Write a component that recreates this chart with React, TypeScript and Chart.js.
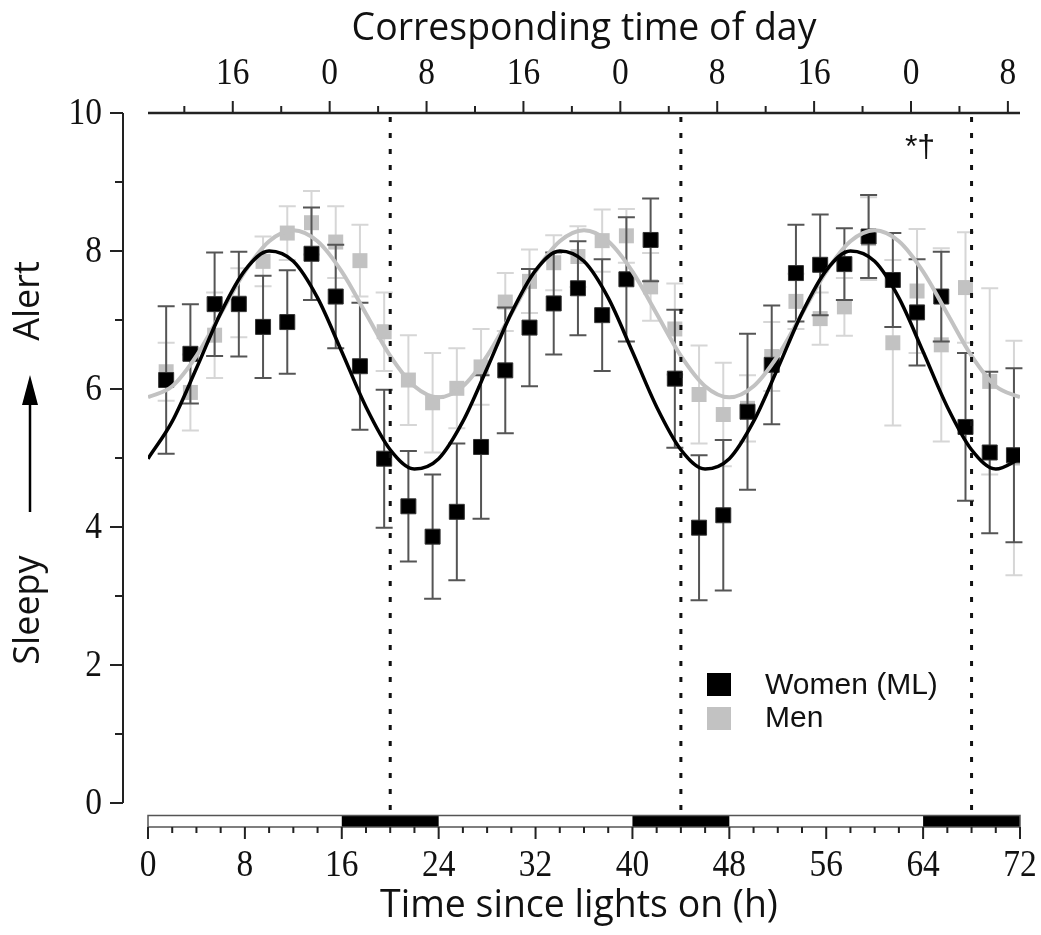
import React, { useEffect, useRef } from "react";
import { Chart, registerables } from "chart.js";

Chart.register(...registerables);

// ---- data ----
const hours = [
  1.5, 3.5, 5.5, 7.5, 9.5, 11.5, 13.5, 15.5, 17.5, 19.5, 21.5, 23.5,
  25.5, 27.5, 29.5, 31.5, 33.5, 35.5, 37.5, 39.5, 41.5, 43.5, 45.5, 47.5,
  49.5, 51.5, 53.5, 55.5, 57.5, 59.5, 61.5, 63.5, 65.5, 67.5, 69.5, 71.5,
];
const womenMean = [
  6.13, 6.51, 7.23, 7.23, 6.9, 6.97, 7.96, 7.34, 6.33, 4.99, 4.3, 3.86,
  4.22, 5.16, 6.27, 6.89, 7.24, 7.46, 7.07, 7.59, 8.16, 6.15, 3.99, 4.17,
  5.67, 6.35, 7.68, 7.8, 7.81, 8.21, 7.58, 7.11, 7.34, 5.45, 5.08, 5.04,
];
const womenErr = [
  1.07, 0.72, 0.75, 0.76, 0.74, 0.75, 0.67, 0.75, 0.92, 1.0, 0.8, 0.9,
  0.99, 1.04, 0.91, 0.85, 0.74, 0.68, 0.81, 0.9, 0.6, 1.0, 1.05, 1.09,
  1.13, 0.86, 0.7, 0.73, 0.52, 0.6, 0.68, 0.77, 0.65, 1.07, 1.17, 1.26,
];
const menMean = [
  6.25, 5.95, 6.78, 7.25, 7.85, 8.26, 8.41, 8.13, 7.86, 6.83, 6.13, 5.8,
  6.01, 6.32, 7.26, 7.56, 7.83, 7.92, 8.15, 8.22, 7.48, 6.87, 5.92, 5.63,
  5.72, 6.47, 7.27, 7.02, 7.19, 8.18, 6.67, 7.42, 6.64, 7.47, 6.11, 5.0,
];
const menErr = [
  0.42, 0.55, 0.62, 0.5, 0.36, 0.39, 0.46, 0.52, 0.52, 0.57, 0.65, 0.72,
  0.58, 0.55, 0.42, 0.46, 0.4, 0.44, 0.45, 0.39, 0.49, 0.66, 0.71, 0.75,
  0.48, 0.5, 0.4, 0.38, 0.42, 0.6, 1.2, 0.9, 1.4, 0.8, 1.35, 1.7,
];
// fitted curves, every 2 h
const fitHours = [
  0, 2, 4, 6, 8, 10, 12, 14, 16, 18, 20, 22, 24, 26, 28, 30, 32, 34, 36,
  38, 40, 42, 44, 46, 48, 50, 52, 54, 56, 58, 60, 62, 64, 66, 68, 70, 72,
];
const womenFit = [
  4.99, 5.53, 6.3, 7.1, 7.72, 8.0, 7.85, 7.32, 6.54, 5.74, 5.12, 4.84,
  4.99, 5.53, 6.3, 7.1, 7.72, 8.0, 7.85, 7.32, 6.54, 5.74, 5.12, 4.84,
  4.99, 5.53, 6.3, 7.1, 7.72, 8.0, 7.85, 7.32, 6.54, 5.74, 5.12, 4.84, 4.99,
];
const menFit = [
  5.88, 6.04, 6.48, 7.09, 7.7, 8.14, 8.3, 8.14, 7.7, 7.09, 6.48, 6.04,
  5.88, 6.04, 6.48, 7.09, 7.7, 8.14, 8.3, 8.14, 7.7, 7.09, 6.48, 6.04,
  5.88, 6.04, 6.48, 7.09, 7.7, 8.14, 8.3, 8.14, 7.7, 7.09, 6.48, 6.04, 5.88,
];
const bottomTickValues = [0, 8, 16, 24, 32, 40, 48, 56, 64, 72];
const bottomMinorTicks = [
  2, 4, 6, 10, 12, 14, 18, 20, 22, 26, 28, 30, 34, 36, 38, 42, 44, 46, 50,
  52, 54, 58, 60, 62, 66, 68, 70,
];
const topTickHours = [7, 15, 23, 31, 39, 47, 55, 63, 71];
const topTickLabels = ["16", "0", "8", "16", "0", "8", "16", "0", "8"];
const topMinorHours = [3, 11, 19, 27, 35, 43, 51, 59, 67];
const yTickValues = [0, 2, 4, 6, 8, 10];
const yMinorValues = [1, 3, 5, 7, 9];
const darkPeriods = [
  [16, 24],
  [40, 48],
  [64, 72],
];
const dashedHours = [20, 44, 68];

const BLACK = "#000000";
const GRAY = "#c2c2c2";
const BLACK_ERR = "#555555";
const GRAY_ERR = "#d6d6d6";
const SERIF = '"Liberation Serif", "DejaVu Serif", serif';
const SANS = '"Open Sans", "Noto Sans", sans-serif';
const ARIAL = '"Liberation Sans", Arial, sans-serif';

// text drawn slightly condensed (tall, narrow glyphs as in the reference)
function condensedText(ctx: any, text: string, x: number, y: number, sx: number) {
  ctx.save();
  ctx.translate(x, y);
  ctx.scale(sx, 1);
  ctx.fillText(text, 0, 0);
  ctx.restore();
}

function drawErrors(chart: any, means: number[], errs: number[], color: string) {
  const ctx = chart.ctx;
  const xs = chart.scales.x;
  const ys = chart.scales.y;
  ctx.save();
  ctx.strokeStyle = color;
  ctx.lineWidth = 2;
  const cap = 8.5;
  for (let i = 0; i < hours.length; i++) {
    const x = xs.getPixelForValue(hours[i]);
    const yt = ys.getPixelForValue(means[i] + errs[i]);
    const yb = ys.getPixelForValue(means[i] - errs[i]);
    ctx.beginPath();
    ctx.moveTo(x, yt);
    ctx.lineTo(x, yb);
    ctx.moveTo(x - cap, yt);
    ctx.lineTo(x + cap, yt);
    ctx.moveTo(x - cap, yb);
    ctx.lineTo(x + cap, yb);
    ctx.stroke();
  }
  ctx.restore();
}

const customPlugin = {
  id: "customDecor",
  beforeDatasetDraw(chart: any, args: any) {
    if (args.index === 3) drawErrors(chart, menMean, menErr, GRAY_ERR);
    if (args.index === 2) drawErrors(chart, womenMean, womenErr, BLACK_ERR);
  },
  afterDatasetsDraw(chart: any) {
    const ctx = chart.ctx;
    const xs = chart.scales.x;
    const ys = chart.scales.y;
    ctx.save();
    ctx.strokeStyle = "#111";
    ctx.lineWidth = 3;
    ctx.setLineDash([5, 11]);
    for (const h of dashedHours) {
      const x = xs.getPixelForValue(h);
      ctx.beginPath();
      ctx.moveTo(x, ys.getPixelForValue(10) + 4);
      ctx.lineTo(x, ys.getPixelForValue(0) + 10);
      ctx.stroke();
    }
    ctx.restore();
  },
  afterDraw(chart: any) {
    const ctx = chart.ctx;
    const xs = chart.scales.x;
    const ys = chart.scales.y;
    const left = xs.getPixelForValue(0);
    const right = xs.getPixelForValue(72);
    const top = ys.getPixelForValue(10);
    const bottom = ys.getPixelForValue(0);
    ctx.save();

    // ---- left y axis ----
    const ax = 123;
    ctx.strokeStyle = "#222";
    ctx.lineWidth = 2;
    ctx.beginPath();
    ctx.moveTo(ax, top);
    ctx.lineTo(ax, bottom);
    for (const v of yTickValues) {
      const y = ys.getPixelForValue(v);
      ctx.moveTo(ax - 13, y);
      ctx.lineTo(ax, y);
    }
    for (const v of yMinorValues) {
      const y = ys.getPixelForValue(v);
      ctx.moveTo(ax - 8, y);
      ctx.lineTo(ax, y);
    }
    ctx.stroke();
    ctx.fillStyle = "#111";
    ctx.font = `38px ${SERIF}`;
    ctx.textAlign = "right";
    ctx.textBaseline = "middle";
    for (const v of yTickValues) {
      condensedText(ctx, String(v), 102, ys.getPixelForValue(v) + 1, 0.88);
    }

    // y title: Sleepy ——> Alert
    ctx.save();
    ctx.translate(29, 0);
    ctx.rotate(-Math.PI / 2);
    ctx.font = `36px ${SANS}`;
    ctx.textAlign = "center";
    ctx.textBaseline = "middle";
    ctx.fillText("Alert", -301, 0);
    ctx.fillText("Sleepy", -610, 0);
    ctx.restore();
    ctx.strokeStyle = "#000";
    ctx.lineWidth = 2.5;
    ctx.beginPath();
    ctx.moveTo(30, 512);
    ctx.lineTo(30, 395);
    ctx.stroke();
    ctx.fillStyle = "#000";
    ctx.beginPath();
    ctx.moveTo(30, 375);
    ctx.lineTo(22, 405);
    ctx.lineTo(38, 405);
    ctx.closePath();
    ctx.fill();

    // ---- top axis ----
    ctx.strokeStyle = "#222";
    ctx.lineWidth = 2.5;
    ctx.beginPath();
    ctx.moveTo(left, top);
    ctx.lineTo(right, top);
    ctx.stroke();
    ctx.lineWidth = 2;
    ctx.beginPath();
    for (const h of topTickHours) {
      const x = xs.getPixelForValue(h);
      ctx.moveTo(x, top);
      ctx.lineTo(x, top - 12);
    }
    for (const h of topMinorHours) {
      const x = xs.getPixelForValue(h);
      ctx.moveTo(x, top);
      ctx.lineTo(x, top - 7);
    }
    ctx.stroke();
    ctx.fillStyle = "#111";
    ctx.font = `38px ${SERIF}`;
    ctx.textAlign = "center";
    ctx.textBaseline = "middle";
    topTickHours.forEach((h, i) => {
      condensedText(ctx, topTickLabels[i], xs.getPixelForValue(h), 74, 0.88);
    });
    ctx.font = `39px ${SANS}`;
    condensedText(ctx, "Corresponding time of day", (left + right) / 2, 29, 0.96);

    // ---- light/dark bar ----
    const barTop = 815.5;
    const barBottom = 827;
    ctx.fillStyle = "#000";
    for (const [a, b] of darkPeriods) {
      const xa = xs.getPixelForValue(a);
      const xb = xs.getPixelForValue(b);
      ctx.fillRect(xa, barTop, xb - xa, barBottom - barTop);
    }
    ctx.strokeStyle = "#555";
    ctx.lineWidth = 1.5;
    ctx.strokeRect(left, barTop, right - left, barBottom - barTop);
    ctx.strokeStyle = "#222";
    ctx.lineWidth = 2;
    ctx.beginPath();
    for (const v of bottomTickValues) {
      const x = xs.getPixelForValue(v);
      ctx.moveTo(x, barBottom);
      ctx.lineTo(x, barBottom + 12);
    }
    for (const v of bottomMinorTicks) {
      const x = xs.getPixelForValue(v);
      ctx.moveTo(x, barBottom);
      ctx.lineTo(x, barBottom + 6);
    }
    ctx.stroke();
    ctx.fillStyle = "#111";
    ctx.font = `38px ${SERIF}`;
    ctx.textAlign = "center";
    ctx.textBaseline = "middle";
    for (const v of bottomTickValues) {
      condensedText(ctx, String(v), xs.getPixelForValue(v), 866, 0.88);
    }
    ctx.font = `39px ${SANS}`;
    condensedText(ctx, "Time since lights on (h)", 579, 906, 0.96);

    // ---- annotation ----
    ctx.font = `32px ${ARIAL}`;
    ctx.fillText("*\u2020", 920, 148);

    // ---- legend ----
    ctx.fillStyle = BLACK;
    ctx.fillRect(707, 673, 24, 23);
    ctx.fillStyle = GRAY;
    ctx.fillRect(707, 707, 24, 23);
    ctx.fillStyle = "#111";
    ctx.font = `30px ${ARIAL}`;
    ctx.textAlign = "left";
    ctx.textBaseline = "middle";
    ctx.fillText("Women (ML)", 765, 686);
    ctx.fillText("Men", 765, 719);

    ctx.restore();
  },
};

export default function App() {
  const ref = useRef<HTMLCanvasElement | null>(null);
  useEffect(() => {
    if (!ref.current) return;
    const chart = new Chart(ref.current, {
      type: "line",
      data: {
        datasets: [
          {
            label: "Women fit",
            data: fitHours.map((h, i) => ({ x: h, y: womenFit[i] })),
            borderColor: BLACK,
            borderWidth: 3.5,
            pointRadius: 0,
            tension: 0.4,
            cubicInterpolationMode: "monotone",
            fill: false,
            order: 0,
          } as any,
          {
            label: "Men fit",
            data: fitHours.map((h, i) => ({ x: h, y: menFit[i] })),
            borderColor: GRAY,
            borderWidth: 4,
            pointRadius: 0,
            tension: 0.4,
            cubicInterpolationMode: "monotone",
            fill: false,
            order: 1,
          } as any,
          {
            label: "Women (ML)",
            type: "scatter",
            data: hours.map((h, i) => ({ x: h, y: womenMean[i] })),
            backgroundColor: BLACK,
            borderColor: "#333",
            borderWidth: 1,
            pointStyle: "rect",
            pointRadius: 10.6,
            showLine: false,
            order: 2,
          } as any,
          {
            label: "Men",
            type: "scatter",
            data: hours.map((h, i) => ({ x: h, y: menMean[i] })),
            backgroundColor: GRAY,
            borderColor: GRAY,
            borderWidth: 0,
            pointStyle: "rect",
            pointRadius: 10.6,
            showLine: false,
            order: 3,
          } as any,
        ],
      },
      options: {
        animation: false,
        responsive: false,
        layout: { padding: { left: 148, right: 21, top: 113, bottom: 132 } },
        scales: {
          x: { type: "linear", min: 0, max: 72, display: false },
          y: { type: "linear", min: 0, max: 10, display: false },
        },
        plugins: {
          legend: { display: false },
          tooltip: { enabled: false },
        },
      },
      plugins: [customPlugin],
    });
    return () => chart.destroy();
  }, []);
  return (
    <div
      style={{
        position: "fixed",
        left: 0,
        top: 0,
        width: 1041,
        height: 935,
        background: "#fff",
      }}
    >
      <canvas ref={ref} width={1041} height={935} />
    </div>
  );
}
